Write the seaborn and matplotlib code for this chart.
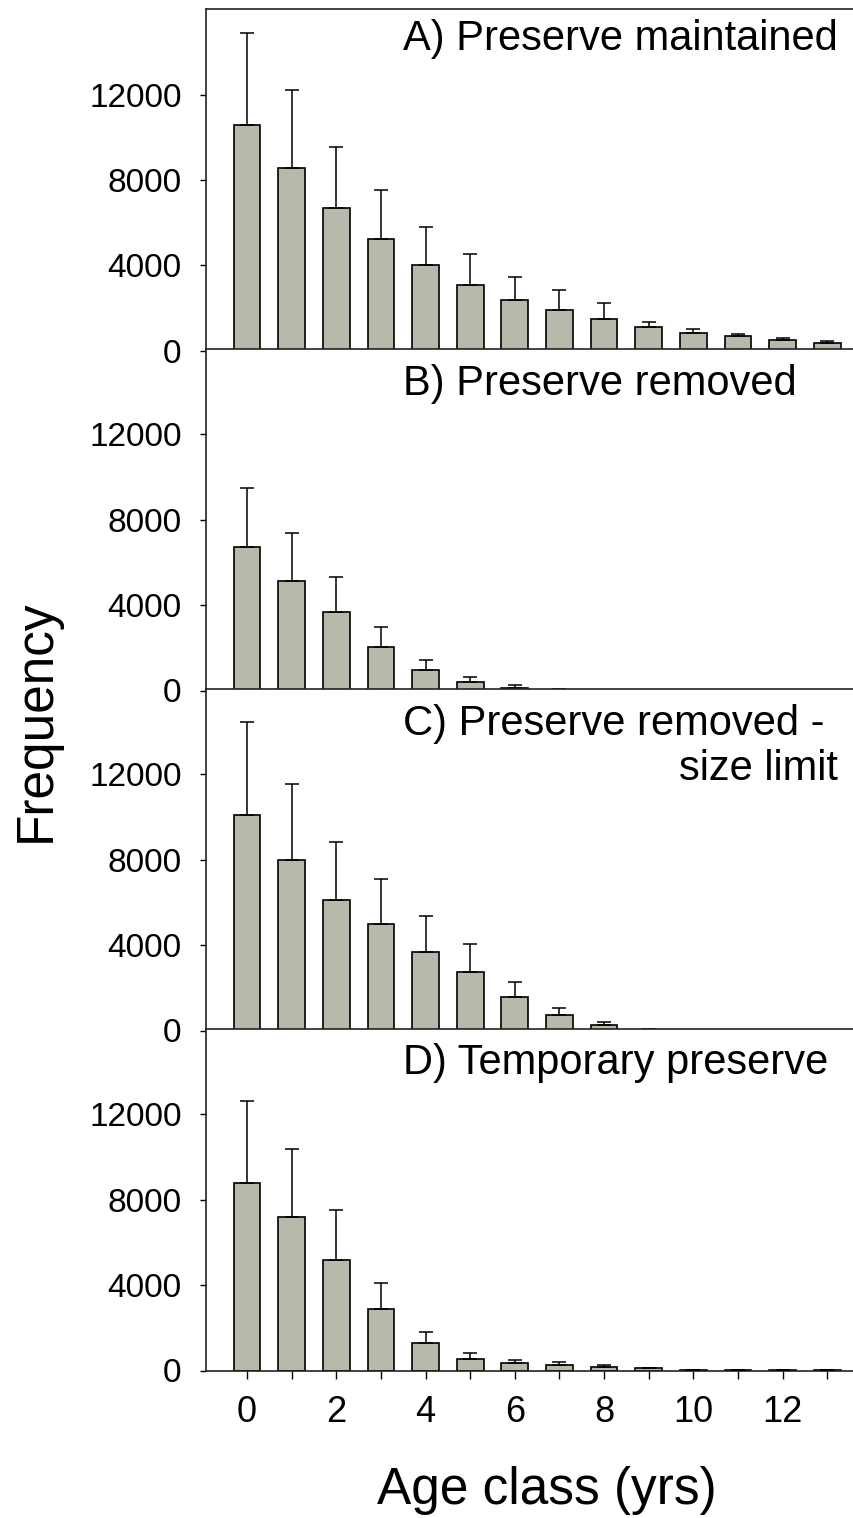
import numpy as np
import pandas as pd
import matplotlib
matplotlib.use("Agg")
import matplotlib.pyplot as plt
import seaborn as sns

ages = list(range(14))

# panel A - preserve maintained
a_mean = [10600, 8550, 6700, 5220, 4020, 3090, 2400, 1930, 1490, 1130, 850, 680, 500, 380]
a_upper = [14900, 12230, 9570, 7550, 5790, 4530, 3480, 2870, 2230, 1330, 1020, 770, 610, 455]
# panel B - preserve removed
b_mean = [6700, 5130, 3670, 2040, 970, 410, 140, 45, 0, 0, 0, 0, 0, 0]
b_upper = [9500, 7370, 5320, 2970, 1430, 630, 250, 65, 0, 0, 0, 0, 0, 0]
# panel C - preserve removed, size limit
c_mean = [10120, 7980, 6130, 4990, 3700, 2760, 1580, 720, 270, 45, 0, 0, 0, 0]
c_upper = [14450, 11560, 8850, 7080, 5370, 4050, 2280, 1070, 390, 65, 0, 0, 0, 0]
# panel D - temporary preserve
d_mean = [8780, 7190, 5200, 2860, 1270, 560, 340, 270, 170, 95, 30, 10, 5, 5]
d_upper = [12610, 10390, 7500, 4110, 1800, 810, 500, 390, 265, 125, 45, 15, 8, 8]

titles = ["A) Preserve maintained", "B) Preserve removed", "C) Preserve removed -", "D) Temporary preserve"]

sns.set_theme(style="ticks")
plt.rcParams['font.family'] = ['Liberation Sans', 'DejaVu Sans']
plt.rcParams['text.color'] = 'black'
plt.rcParams['xtick.color'] = 'black'
plt.rcParams['ytick.color'] = 'black'
plt.rcParams['xtick.labelcolor'] = 'black'
plt.rcParams['ytick.labelcolor'] = 'black'

W, H = 854, 1518
fig = plt.figure(figsize=(W / 100, H / 100), dpi=100)

left_px, right_px = 206, 854
tops = [9.3, 349, 689, 1029]
title_off = [41, 46, 46, 45]
panel_h = 341.5

bar_color = "#b9b9ab"
series = [(a_mean, a_upper), (b_mean, b_upper), (c_mean, c_upper), (d_mean, d_upper)]

for i, (mean, upper) in enumerate(series):
    top = tops[i]
    ax = fig.add_axes([left_px / W, 1 - (top + panel_h) / H,
                       (right_px - left_px) / W, panel_h / H])
    df = pd.DataFrame({"age": ages, "freq": mean})
    sns.barplot(data=df, x="age", y="freq", ax=ax, color=bar_color, saturation=1,
                edgecolor="black", linewidth=1.2, width=0.6, errorbar=None, zorder=2)
    m = np.array(mean, dtype=float)
    u = np.array(upper, dtype=float)
    ax.errorbar(np.arange(len(ages)), m, yerr=[np.zeros_like(m), u - m], fmt="none",
                ecolor="black", elinewidth=1.1, capsize=5, capthick=1.1, zorder=3)

    ax.set_xlim(-0.92, 13.6)
    ax.set_ylim(0, 16000)
    ax.set_yticks([0, 4000, 8000, 12000])
    ax.set_yticklabels(["0", "4000", "8000", "12000"])
    ax.tick_params(axis="y", labelsize=24, length=4.5, width=1, pad=13, direction="out")
    ax.set_xlabel("")
    ax.set_ylabel("")
    ax.spines["right"].set_visible(False)
    for s in ["left", "top", "bottom"]:
        ax.spines[s].set_linewidth(1.2)
        ax.spines[s].set_color("#222222")
    if i < 3:
        ax.tick_params(axis="x", bottom=False, labelbottom=False)
    else:
        ax.set_xticks(ages)
        ax.set_xticklabels([str(a) if a % 2 == 0 else "" for a in ages])
        ax.tick_params(axis="x", labelsize=26, length=5.5, width=1, pad=12, direction="out")

    ax.text((403 - left_px) / (right_px - left_px), 1 - title_off[i] / panel_h, titles[i],
            transform=ax.transAxes, ha="left", va="baseline", fontsize=30)
    if i == 2:
        ax.text((838 - left_px) / (right_px - left_px), 1 - 91 / panel_h, "size limit",
                transform=ax.transAxes, ha="right", va="baseline", fontsize=30)

fig.text(50 / W, 1 - 721 / H, "Frequency", rotation=90, rotation_mode="anchor",
         ha="center", va="baseline", fontsize=37)
fig.text(547 / W, 1 - 1504 / H, "Age class (yrs)", ha="center", va="baseline", fontsize=37)

fig.savefig("out.png", dpi=100)
